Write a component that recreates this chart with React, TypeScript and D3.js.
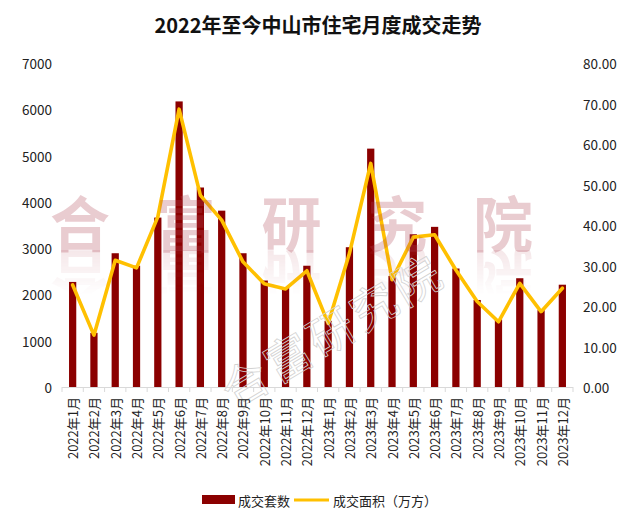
import React from "react";
import * as d3 from "d3";

const months = [
  "2022年1月","2022年2月","2022年3月","2022年4月","2022年5月","2022年6月",
  "2022年7月","2022年8月","2022年9月","2022年10月","2022年11月","2022年12月",
  "2023年1月","2023年2月","2023年3月","2023年4月","2023年5月","2023年6月",
  "2023年7月","2023年8月","2023年9月","2023年10月","2023年11月","2023年12月",
];
const units = [2270, 1170, 2890, 2620, 3660, 6170, 4310, 3810, 2890, 2300, 2160, 2620,
  1430, 3020, 5150, 2400, 3300, 3460, 2560, 1880, 1460, 2350, 1660, 2210];
const area = [25.2, 12.8, 31.3, 29.4, 42.0, 68.6, 47.3, 41.2, 30.9, 25.5, 24.2, 28.7,
  15.7, 33.0, 55.2, 26.5, 37.0, 37.6, 28.9, 21.1, 16.1, 25.6, 18.6, 24.4];
const leftTicks = [0, 1000, 2000, 3000, 4000, 5000, 6000, 7000];
const rightTicks = [0, 10, 20, 30, 40, 50, 60, 70, 80];
const title = "2022年至今中山市住宅月度成交走势";
const seriesNames = ["成交套数", "成交面积（万方）"];
const watermark = ["合", "富", "研", "究", "院"];

const FONT = "'Noto Sans CJK SC', 'Noto Sans', sans-serif";
const BAR = "#8B0000";
const LINE = "#FFC000";

export default function App() {
  const W = 640, H = 524;
  const left = 62, right = 573, top = 63, bottom = 387;
  const x = d3.scaleBand<string>().domain(months).range([left, right]).padding(0);
  const yL = d3.scaleLinear().domain([0, 7000]).range([bottom, top]);
  const yR = d3.scaleLinear().domain([0, 80]).range([bottom, top]);
  const bw = x.bandwidth() * 0.34;
  const cx = (m: string) => (x(m) as number) + x.bandwidth() / 2;
  const line = d3.line<number>()
    .x((_, i) => cx(months[i]))
    .y((d) => yR(d))
    .curve(d3.curveLinear);
  const fmt = d3.format(".2f");
  const boundaries = d3.range(months.length + 1).map((i) => left + i * x.step());

  const wmX = d3.scalePoint<string>().domain(watermark).range([80, 503]);

  return (
    <svg width={W} height={H} style={{ position: "absolute", left: 0, top: 0, background: "#fff" }}
      fontFamily={FONT}>
      <defs>
        <linearGradient id="fade" x1="0" y1="0" x2="0" y2="1">
          <stop offset="0" stopColor="#fff" stopOpacity={1} />
          <stop offset="1" stopColor="#fff" stopOpacity={0} />
        </linearGradient>
        <mask id="reflMask" maskUnits="userSpaceOnUse" x={0} y={250} width={640} height={60}>
          <rect x={0} y={250} width={640} height={45} fill="url(#fade)" />
        </mask>
        <g id="wmGlyphs" fontWeight="bold" fontSize={60}>
          {watermark.map((c) => (
            <text key={c} x={wmX(c)} y={247} textAnchor="middle">{c}</text>
          ))}
        </g>
      </defs>
      <rect width={W} height={H} fill="#fff" />
      <text x={318} y={33} textAnchor="middle" fontSize={20} fontWeight="bold" fill="#111">{title}</text>

      {/* bars */}
      {months.map((m, i) => (
        <rect key={m} x={cx(m) - bw / 2} y={yL(units[i])} width={bw}
          height={bottom - yL(units[i])} fill={BAR} />
      ))}

      {/* line */}
      <path d={line(area) || ""} fill="none" stroke={LINE} strokeWidth={3.6}
        strokeLinejoin="round" strokeLinecap="round" />

      {/* big watermark with faded reflection */}
      <use href="#wmGlyphs" fill="#b24a5a" opacity={0.28} />
      <g mask="url(#reflMask)">
        <use href="#wmGlyphs" fill="#b24a5a" opacity={0.13}
          transform="translate(0,500) scale(1,-1)" />
      </g>
      {/* diagonal outline watermark */}
      <text x={0} y={0} transform="translate(335,335) rotate(-31)" textAnchor="middle"
        dominantBaseline="middle" fontSize={46} fill="none" stroke="#d2d2d2" strokeWidth={0.8}
        letterSpacing={4}>
        {watermark.join("")}
      </text>

      {/* x axis */}
      <line x1={left} x2={right} y1={bottom + 0.5} y2={bottom + 0.5} stroke="#d9d9d9" strokeWidth={1} />
      {boundaries.map((b, i) => (
        <line key={i} x1={b} x2={b} y1={bottom} y2={bottom + 5} stroke="#d9d9d9" strokeWidth={1} />
      ))}
      {months.map((m) => (
        <text key={m} transform={`translate(${cx(m)},${bottom + 10}) rotate(-90)`}
          textAnchor="end" dominantBaseline="central" fontSize={13} fill="#222">{m}</text>
      ))}

      {/* left axis labels */}
      {leftTicks.map((t) => (
        <text key={t} x={52} y={yL(t)} textAnchor="end" dominantBaseline="central"
          fontSize={13.5} fill="#222">{t}</text>
      ))}
      {/* right axis labels */}
      {rightTicks.map((t) => (
        <text key={t} x={583} y={yR(t)} textAnchor="start" dominantBaseline="central"
          fontSize={13.5} fill="#222">{fmt(t)}</text>
      ))}

      {/* legend */}
      <rect x={202} y={495} width={33} height={9} fill={BAR} />
      <text x={238} y={500} dominantBaseline="central" fontSize={13} fill="#222">{seriesNames[0]}</text>
      <line x1={294} x2={329} y1={500} y2={500} stroke={LINE} strokeWidth={3} />
      <text x={333} y={500} dominantBaseline="central" fontSize={13} fill="#222">{seriesNames[1]}</text>
    </svg>
  );
}
